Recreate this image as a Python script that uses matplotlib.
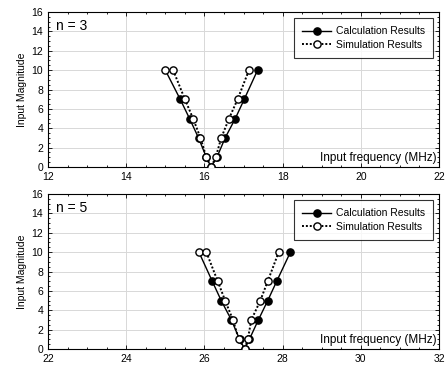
import numpy as np
import matplotlib
matplotlib.use("Agg")
import matplotlib.pyplot as plt
from matplotlib.ticker import MultipleLocator

# magnitude steps shared by both harmonics
magnitude = [10, 7, 5, 3, 1, 0, 1, 3, 5, 7, 10]

# n = 3 harmonic
calc_freq_n3 = [15.0, 15.38, 15.62, 15.85, 16.05, 16.17, 16.32, 16.53, 16.79, 17.02, 17.36]
sim_freq_n3 = [15.2, 15.5, 15.71, 15.9, 16.05, 16.17, 16.29, 16.43, 16.63, 16.85, 17.14]

# n = 5 harmonic
calc_freq_n5 = [25.86, 26.2, 26.43, 26.69, 26.9, 27.03, 27.15, 27.38, 27.62, 27.85, 28.2]
sim_freq_n5 = [26.05, 26.34, 26.53, 26.73, 26.88, 27.03, 27.11, 27.2, 27.43, 27.62, 27.9]

panels = [
    ("n = 3", calc_freq_n3, sim_freq_n3, (12, 22)),
    ("n = 5", calc_freq_n5, sim_freq_n5, (22, 32)),
]

plt.rcParams['font.family'] = ['Liberation Sans', 'DejaVu Sans']

W, H = 446, 372
fig = plt.figure(figsize=(W / 100, H / 100), dpi=100)

boxes = [(48, 12, 439, 167), (48, 194, 439, 349)]
MS = 5.2

for (label, calc_f, sim_f, xlim), (l, t, r, b) in zip(panels, boxes):
    ax = fig.add_axes([l / W, 1 - b / H, (r - l) / W, (b - t) / H])

    ax.plot(calc_f, magnitude, color='black', lw=1.0, marker='o', ms=MS,
            mfc='black', mec='black', markevery=list(range(1, len(calc_f))),
            label='Calculation Results', zorder=3)
    # first calculated point is drawn hollow
    ax.plot(calc_f[:1], magnitude[:1], ls='none', marker='o', ms=MS,
            mfc='white', mec='black', mew=1.0, zorder=4)
    ax.plot(sim_f, magnitude, color='black', lw=1.4, ls=(0, (1, 1)), marker='o', ms=MS,
            mfc='white', mec='black', mew=1.0, label='Simulation Results', zorder=4)

    ax.set_xlim(*xlim)
    ax.set_ylim(0, 16)
    ax.xaxis.set_major_locator(MultipleLocator(2))
    ax.xaxis.set_minor_locator(MultipleLocator(0.5))
    ax.yaxis.set_major_locator(MultipleLocator(2))
    ax.yaxis.set_minor_locator(MultipleLocator(0.5))
    ax.tick_params(which='both', direction='in', top=True, right=True,
                   labelsize=7.5, width=0.6, colors='black')
    ax.tick_params(which='major', length=3)
    ax.tick_params(which='minor', length=1.5)
    ax.grid(True, which='major', color='#d8d8d8', lw=0.7)
    ax.set_axisbelow(True)
    for sp in ax.spines.values():
        sp.set_linewidth(0.8)

    ax.set_ylabel('Input Magnitude', fontsize=7.5, labelpad=3)
    ax.text(0.02, 0.955, label, transform=ax.transAxes, fontsize=10,
            ha='left', va='top')
    ax.text(0.995, 0.02, 'Input frequency (MHz)', transform=ax.transAxes,
            fontsize=8.5, ha='right', va='bottom')

    leg = ax.legend(loc='upper right', fontsize=7.5, frameon=True, fancybox=False,
                    edgecolor='black', borderpad=0.8, handlelength=2.8,
                    handletextpad=0.4, labelspacing=0.35,
                    bbox_to_anchor=(0.998, 0.995))
    leg.get_frame().set_linewidth(0.8)

fig.savefig('out.png', dpi=100)
